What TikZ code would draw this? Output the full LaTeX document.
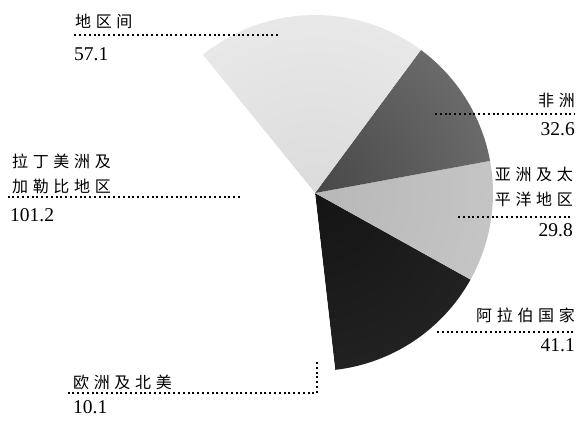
\documentclass[tikz,border=0pt]{standalone}
\usepackage{fontspec}
\setmainfont{Liberation Serif}
\newfontfamily\cjk[LetterSpace=29]{Noto Sans CJK SC}
\usepackage{tikz}
\def\pieradius{178}

\begin{document}
\begin{tikzpicture}[x=1pt,y=1pt]
    \tikzstyle{leader}=[line width=1.9pt,dash pattern=on 1.9pt off 2.9pt,black]
    \tikzstyle{region}=[inner sep=0pt,font=\cjk\fontsize{16}{25}\selectfont]
    \tikzstyle{amount}=[inner sep=0pt,font=\fontsize{19.5}{19.5}\selectfont]

    \useasboundingbox (-315,-228) rectangle (269,193);

    % Draw the sectors: from / to / shade at centre / shade at rim
    \foreach \from / \to / \inner / \outer in
        {-83.5/-29.1/92/82, -29.1/10.4/28/18, 10.4/53.5/72/45,
         53.5/129.1/14/4, 129.1/263.1/0/0, 263.1/276.5/0/0}
    {
        \begin{scope}
            \clip (0,0) -- (\from:\pieradius) arc (\from:\to:\pieradius) -- cycle;
            \shade[inner color=black!\inner,outer color=black!\outer]
                (0,0) circle (2*\pieradius);
        \end{scope}
    }

    % Draw the region names and the amounts
    \node[region,anchor=west] (inter) at (-240,172) {地区间};
    \node[amount,anchor=west] (inter-v) at (-241,139) {57.1};
    \node[region,anchor=west,align=left] (latin) at (-303,19) {拉丁美洲及\\加勒比地区};
    \node[amount,anchor=west] (latin-v) at (-305,-22) {101.2};
    \node[region,anchor=east] (africa) at (260,93) {非洲};
    \node[amount,anchor=east] (africa-v) at (260,64) {32.6};
    \node[region,anchor=east,align=right] (asia) at (258,6) {亚洲及太\\平洋地区};
    \node[amount,anchor=east] (asia-v) at (258,-37) {29.8};
    \node[region,anchor=east] (arab) at (260,-122) {阿拉伯国家};
    \node[amount,anchor=east] (arab-v) at (260,-152) {41.1};
    \node[region,anchor=west] (europe) at (-242,-189) {欧洲及北美};
    \node[amount,anchor=west] (europe-v) at (-242,-214) {10.1};

    % Leader lines from each sector out under its name
    \foreach \name / \xin / \xout / \y in
        {inter/-37/-242/158, latin/-75/-310/-4, africa/120/260/79,
         asia/143/258/-24, arab/122/260/-139}
    {
        \coordinate (\name-in) at (\xin,\y);
        \coordinate (\name-out) at (\xout,\y);
        \draw[leader] (\name-in) -- (\name-out);
    }
    \coordinate (europe-in) at (2,-169);
    \coordinate (europe-bend) at (2,-200);
    \coordinate (europe-out) at (-248,-200);
    \draw[leader] (europe-in) -- (europe-bend) -- (europe-out);
\end{tikzpicture}
\end{document}
